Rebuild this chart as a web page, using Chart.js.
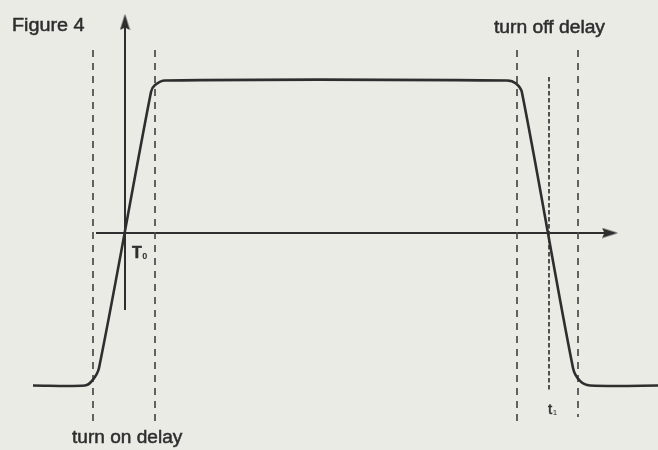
<!DOCTYPE html>
<html>
<head>
<meta charset="utf-8">
<script src="https://cdn.jsdelivr.net/npm/chart.js@4"></script>
<style>
	html, body { margin: 0; padding: 0; overflow: hidden; background: #ebebe6; }
	#wrap { width: 658px; height: 450px; }
</style>
</head>
<body>
<div id="wrap"><canvas id="myChart" width="658" height="450"></canvas></div>
<script>
// time in divisions (y axis at 0), level normalised: +1 on, -1 off, 0 on the time axis
const waveTime  = [-9.2, -4.0, -3.3, -2.6, 2.6, 3.0, 4.0, 38.2, 39.1, 39.7, 44.8, 45.5, 46.5, 54.0];
const waveLevel = [-1.0, -1.0, -0.97, -0.885, 0.925, 0.97, 1.0, 1.0, 0.98, 0.92, -0.885, -0.97, -1.0, -1.0];

// dashed markers: turn on delay (first two), turn off delay (last two)
const markerTime   = [-3.2, 3.0, 39.2, 45.3];
const markerTop    = [1.2, 1.2, 1.2, 1.2];
const markerBottom = [-1.246, -1.24, -1.24, -1.207];

// t1 marker (dense dash)
const t1Time = 42.4;
const t1Span = [1.023, -1.03];

// axes
const yAxisSpan = [-0.505, 1.384];
const xAxisSpan = [-2.9, 48.5];

const ink = '#2e2e2e';

// arrowhead drawn once, used as a point style
function makeArrow() {
	let c = document.createElement('canvas');
	c.width = 11;
	c.height = 16;
	let g = c.getContext('2d');
	g.fillStyle = ink;
	g.beginPath();
	g.moveTo(5.5, 0);
	g.lineTo(10.5, 16);
	g.lineTo(5.5, 13.5);
	g.lineTo(0.5, 16);
	g.closePath();
	g.fill();
	return c;
}
const arrow = makeArrow();

const textFont = '"Liberation Sans", Arial, sans-serif';
const labels = [
	{ text: 'Figure 4', t: -11.3, v: 1.325, font: '18px ' + textFont, stretch: 1.1 },
	{ text: 'turn off delay', t: 36.9, v: 1.31, font: '18px ' + textFont, stretch: 1.07 },
	{ text: 'turn on delay', t: -5.3, v: -1.377, font: '18px ' + textFont, stretch: 1.06 },
	{ text: 'T', sub: '0', t: 0.7, v: -0.164, font: 'bold 16px ' + textFont, subFont: 'bold 9px ' + textFont, stretch: 1 },
	{ text: 't', sub: '1', t: 42.3, v: -1.187, font: '15px ' + textFont, subFont: '8px ' + textFont, stretch: 1 }
];

function pts(xs, ys) {
	return xs.map((x, i) => ({ x: x, y: ys[i] }));
}

let datasets = [];

// waveform
datasets.push({
	data: pts(waveTime, waveLevel),
	borderColor: ink,
	borderWidth: 2.6,
	borderJoinStyle: 'round',
	pointRadius: 0,
	tension: 0.3
});

markerTime.forEach((t, i) => {
	datasets.push({
		data: pts([t, t], [markerTop[i], markerBottom[i]]),
		borderColor: '#4a4a4a',
		borderWidth: 1.7,
		borderDash: [7, 6],
		pointRadius: 0
	});
});

datasets.push({
	data: pts([t1Time, t1Time], t1Span),
	borderColor: '#404040',
	borderWidth: 1.8,
	borderDash: [4.5, 2.5],
	pointRadius: 0
});

// y axis with arrow on top
datasets.push({
	data: pts([0, 0], yAxisSpan),
	borderColor: ink,
	borderWidth: 2,
	pointRadius: [0, 1],
	pointStyle: arrow,
	pointRotation: 0
});

// time axis with arrow on the right
datasets.push({
	data: pts(xAxisSpan, [0, 0]),
	borderColor: ink,
	borderWidth: 2,
	pointRadius: [0, 1],
	pointStyle: arrow,
	pointRotation: 90
});

const bgPlugin = {
	id: 'paper',
	beforeDraw(chart) {
		let c = chart.ctx;
		c.save();
		c.fillStyle = '#ebebe6';
		c.fillRect(0, 0, chart.width, chart.height);
		c.restore();
	}
};

const labelPlugin = {
	id: 'labels',
	afterDatasetsDraw(chart) {
		let c = chart.ctx;
		let xs = chart.scales.x;
		let ys = chart.scales.y;
		c.save();
		c.fillStyle = ink;
		c.strokeStyle = ink;
		c.lineWidth = 0.5;
		c.textBaseline = 'alphabetic';
		labels.forEach(l => {
			c.save();
			c.translate(xs.getPixelForValue(l.t), ys.getPixelForValue(l.v));
			c.scale(l.stretch, 1);
			c.font = l.font;
			c.fillText(l.text, 0, 0);
			c.strokeText(l.text, 0, 0);
			if (l.sub) {
				let w = c.measureText(l.text).width;
				c.font = l.subFont;
				c.fillText(l.sub, w + 0.5, 1);
			}
			c.restore();
		});
		c.restore();
	}
};

const ctx = document.getElementById('myChart').getContext('2d');
const myChart = new Chart(ctx, {
	type: 'line',
	data: { datasets: datasets },
	options: {
		responsive: false,
		animation: false,
		layout: { padding: 0, autoPadding: false },
		scales: {
			x: { type: 'linear', min: -12.5, max: 53.3, display: false },
			y: { type: 'linear', min: -1.423, max: 1.528, display: false }
		},
		plugins: {
			legend: { display: false },
			tooltip: { enabled: false }
		}
	},
	plugins: [bgPlugin, labelPlugin]
});
</script>
</body>
</html>
